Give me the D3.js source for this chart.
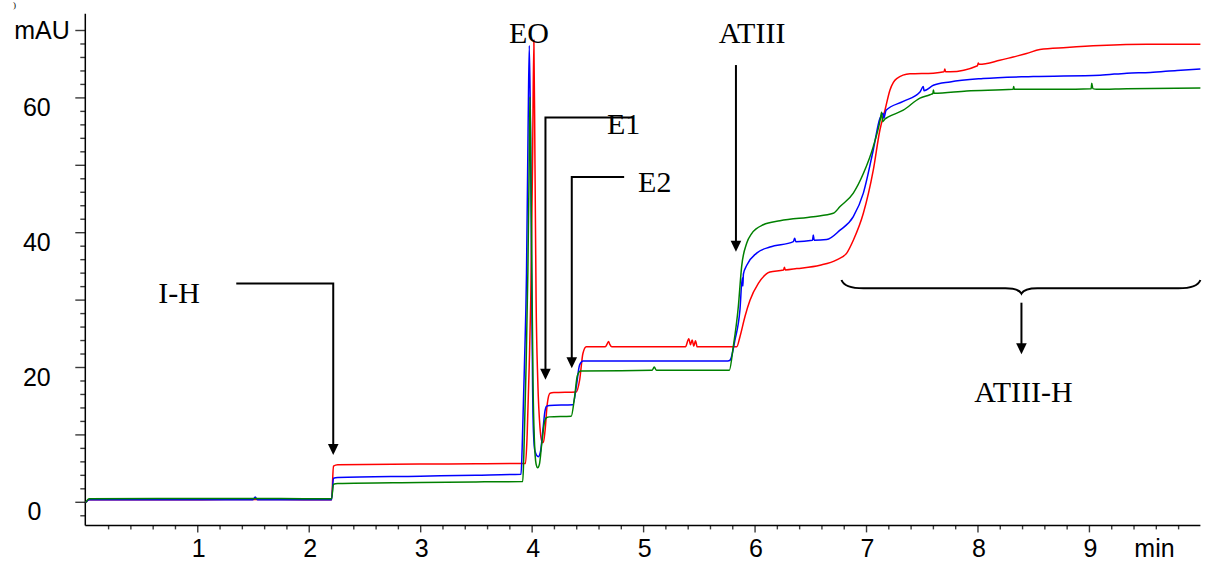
<!DOCTYPE html>
<html>
<head>
<meta charset="utf-8">
<script src="https://cdn.jsdelivr.net/npm/d3@7"></script>
<style>
  html, body { margin: 0; padding: 0; background: #fff; }
  svg { display: block; }
</style>
</head>
<body>
<svg id="chart" width="1210" height="563"></svg>
<script>
// ---------------- DATA ----------------
// time in min, absorbance in mAU
const redTrace = [
  [0, -0.1], [0.03, 0.3], [0.5, 0.3], [1.0, 0.3], [1.5, 0.35], [2.0, 0.3], [2.205, 0.3],
  [2.222, 5.3], [2.26, 5.5], [3.0, 5.6], [3.5, 5.65], [3.945, 5.7],
  [3.96, 10], [3.978, 20], [3.992, 30], [4.008, 50], [4.02, 68.5], [4.03, 50], [4.04, 30],
  [4.055, 18], [4.075, 11], [4.095, 8.8], [4.105, 8.8], [4.12, 10.5], [4.14, 14.5], [4.165, 16.1],
  [4.2, 16.2], [4.40, 16.3], [4.43, 18], [4.46, 22], [4.49, 23.0],
  [4.66, 23.0], [4.68, 23.5], [4.69, 23.8], [4.70, 23.4], [4.72, 23.0],
  [5.38, 23.0], [5.41, 24.2], [5.425, 23.3], [5.44, 24.0], [5.455, 23.1], [5.47, 23.9], [5.485, 23.0],
  [5.84, 23.0], [5.869, 24.5], [5.914, 27.5], [5.959, 29.9], [6.034, 32.4], [6.138, 34.1],
  [6.26, 34.4], [6.268, 34.8], [6.276, 34.4], [6.378, 34.6], [6.587, 35.1], [6.737, 35.9],
  [6.827, 36.9], [6.886, 38.8], [6.976, 42.8], [7.065, 49.2], [7.125, 55.2], [7.17, 58.1],
  [7.215, 61.1], [7.275, 62.8], [7.394, 63.5], [7.604, 63.6], [7.70, 63.8], [7.707, 64.2],
  [7.714, 63.8], [7.754, 63.8], [8.0, 64.7], [8.007, 65.1], [8.015, 64.9], [8.2, 65.5],
  [8.32, 66.0], [8.44, 66.5], [8.56, 67.1], [8.8, 67.4], [9.1, 67.7], [9.52, 67.9], [9.7, 67.9], [10.0, 67.9]
];

const blueTrace = [
  [0, -0.1], [0.03, 0.3], [1.0, 0.3], [1.5, 0.3], [1.52, 0.7], [1.54, 0.3], [2.205, 0.3],
  [2.222, 3.5], [2.26, 3.6], [3.0, 3.8], [3.5, 3.95], [3.905, 4.1],
  [3.915, 8], [3.935, 20], [3.954, 34], [3.968, 55], [3.979, 67.7], [3.99, 55], [4.0, 34],
  [4.008, 18], [4.016, 10.5], [4.03, 7.5], [4.06, 6.7], [4.08, 7.5], [4.10, 10.5], [4.12, 13.5],
  [4.135, 14.2], [4.16, 14.3], [4.37, 14.4], [4.40, 17], [4.43, 20.3], [4.46, 20.9],
  [5.76, 20.9], [5.78, 21.0], [5.824, 24.0], [5.869, 28.5], [5.89, 33.2], [5.895, 32.0],
  [5.90, 33.8], [5.93, 35.1], [6.019, 36.9], [6.138, 37.8], [6.348, 38.6], [6.36, 39.1],
  [6.37, 38.6], [6.52, 38.8], [6.527, 39.6], [6.535, 38.8], [6.647, 38.9], [6.767, 40.3],
  [6.886, 42.3], [6.976, 45.8], [7.065, 52.2], [7.125, 56.9], [7.155, 57.6], [7.16, 56.9],
  [7.18, 58.1], [7.334, 59.4], [7.484, 60.8], [7.514, 61.6], [7.52, 61.0], [7.604, 61.8],
  [7.754, 62.3], [8.05, 62.8], [8.5, 63.1], [9.1, 63.3], [9.34, 63.6], [9.55, 63.7],
  [9.79, 64.0], [10.0, 64.2]
];

const greenTrace = [
  [0, -0.1], [0.03, 0.45], [1.0, 0.5], [1.5, 0.5], [2.0, 0.45], [2.205, 0.45],
  [2.222, 2.6], [2.26, 2.7], [3.0, 2.85], [3.5, 2.95], [3.92, 3.0],
  [3.93, 7], [3.95, 20], [3.966, 34], [3.978, 50], [3.985, 60.1], [3.993, 50], [4.002, 34],
  [4.012, 18], [4.025, 9], [4.04, 5.6], [4.054, 5.06], [4.07, 5.6], [4.09, 8.5], [4.115, 11.8],
  [4.135, 12.5], [4.16, 12.6], [4.355, 12.7], [4.385, 15.5], [4.41, 18.7], [4.44, 19.4],
  [5.08, 19.5], [5.10, 20.0], [5.12, 19.5], [5.773, 19.5], [5.809, 23.0], [5.854, 28.9],
  [5.884, 34.9], [5.93, 38.4], [5.974, 39.8], [6.078, 41.1], [6.228, 41.7], [6.527, 42.3],
  [6.706, 42.8], [6.767, 43.8], [6.886, 45.8], [6.976, 48.7], [7.065, 52.7], [7.13, 56.9],
  [7.14, 57.8], [7.15, 56.4], [7.17, 56.8], [7.20, 57.1], [7.334, 58.1], [7.484, 59.9],
  [7.574, 60.4], [7.60, 60.6], [7.605, 61.1], [7.61, 60.6], [7.903, 60.95], [8.32, 61.2],
  [8.325, 61.6], [8.33, 61.2], [8.74, 61.2], [9.02, 61.3], [9.025, 62.1], [9.035, 61.3],
  [9.07, 61.2], [9.34, 61.3], [10.0, 61.4]
];

const seriesNames = ["red", "blue", "green"];
const seriesColors = ["#ff0000", "#0000ff", "#008000"];

const xTickLabels = [1, 2, 3, 4, 5, 6, 7, 8, 9];
const yTickLabels = [0, 20, 40, 60];
const xUnit = "min";
const yUnit = "mAU";

// Annotations (data units: time, mAU)
const arrowAnnotations = [
  { label: "I-H",  lt: 0.65, lv: 29.5, anchor: "start", path: [[1.35, 32.4], [2.22, 32.4], [2.22, 6.95]] },
  { label: "E1",   lt: 4.675, lv: 54.5, anchor: "start", path: [[4.91, 57.0], [4.124, 57.0], [4.124, 18.1]] },
  { label: "E2",   lt: 4.955, lv: 45.95, anchor: "start", path: [[4.83, 48.2], [4.36, 48.2], [4.36, 19.8]] },
  { label: "ATIII", lt: 5.978, lv: 68.0, anchor: "middle", path: [[5.833, 64.8], [5.833, 37.1]] }
];
const peakLabel = { label: "EO", lt: 3.98, lv: 68.0 };
const braceRange = [6.78, 10.0];
const braceLabel = { label: "ATIII-H", lt: 8.41, lv: 14.85 };

// ---------------- CHART ----------------
const svg = d3.select("#chart");
svg.append("rect").attr("width", 1210).attr("height", 563).attr("fill", "#fff");

const x = d3.scaleLinear().domain([0, 10]).range([85.8, 1200.4]);
const y = d3.scaleLinear().domain([0, 70]).range([501.8, 30]);

const axisFont = "'Liberation Sans', Arial, sans-serif";
const annFont = "'Liberation Serif', 'Times New Roman', serif";

// Y axis ticks
const yMinor = d3.range(-2, 71, 2).filter(v => v % 10 !== 0);
const yMajor = d3.range(0, 71, 10);
const yAxisX = x(0) - 0.5;
const gYmin = svg.append("g").attr("transform", `translate(${yAxisX},0)`)
  .call(d3.axisLeft(y).tickValues(yMinor).tickSize(5).tickFormat(""));
const gYmaj = svg.append("g").attr("transform", `translate(${yAxisX},0)`)
  .call(d3.axisLeft(y).tickValues(yMajor).tickSize(10).tickFormat(""));
[gYmin, gYmaj].forEach(g => {
  g.select(".domain").remove();
  g.selectAll(".tick line").attr("stroke", "#3a3a3a").attr("stroke-width", 1.4);
});

// X axis ticks
const xAxisY = y(-3.5);
const xMinor = d3.range(1, 50).map(i => i / 5).filter(v => Math.abs(v - Math.round(v)) > 1e-6);
const gXmin = svg.append("g").attr("transform", `translate(0,${xAxisY})`)
  .call(d3.axisBottom(x).tickValues(xMinor).tickSize(4).tickFormat(""));
const gXmaj = svg.append("g").attr("transform", `translate(0,${xAxisY})`)
  .call(d3.axisBottom(x).tickValues(xTickLabels).tickSize(7).tickFormat(""));
[gXmin, gXmaj].forEach(g => {
  g.select(".domain").remove();
  g.selectAll(".tick line").attr("stroke", "#3a3a3a").attr("stroke-width", 1.4);
});

// Axis lines
svg.append("line").attr("x1", yAxisX).attr("x2", yAxisX)
  .attr("y1", y(72.4)).attr("y2", xAxisY)
  .attr("stroke", "#000").attr("stroke-width", 1.5);
svg.append("line").attr("x1", yAxisX).attr("x2", x(10))
  .attr("y1", xAxisY).attr("y2", xAxisY)
  .attr("stroke", "#000").attr("stroke-width", 1.5);

// Tick labels
svg.selectAll(".ylab").data(yTickLabels).enter().append("text")
  .attr("class", "ylab")
  .attr("x", d => d === 0 ? 34.5 : 36.8).attr("y", d => y(d) + 18.5)
  .attr("text-anchor", "middle")
  .attr("font-family", axisFont).attr("font-size", 25)
  .text(d => d);
svg.append("text").attr("x", 42).attr("y", y(70) + 9)
  .attr("text-anchor", "middle")
  .attr("font-family", axisFont).attr("font-size", 25)
  .text(yUnit);

svg.selectAll(".xlab").data(xTickLabels).enter().append("text")
  .attr("class", "xlab")
  .attr("x", d => x(d) + 1.5).attr("y", 556.5)
  .attr("text-anchor", "middle")
  .attr("font-family", axisFont).attr("font-size", 25)
  .text(d => d);
svg.append("text").attr("x", 1154.5).attr("y", 556.5)
  .attr("text-anchor", "middle")
  .attr("font-family", axisFont).attr("font-size", 25)
  .text(xUnit);

// small glyph at the very top-left of the original picture
svg.append("text").attr("x", 13).attr("y", 8)
  .attr("font-family", annFont).attr("font-size", 9).text(")");

// Traces
const line = d3.line()
  .x(d => x(d[0]))
  .y(d => y(d[1]))
  .curve(d3.curveMonotoneX);

const traces = [redTrace, blueTrace, greenTrace];
traces.forEach((tr, i) => {
  svg.append("path")
    .datum(tr)
    .attr("fill", "none")
    .attr("stroke", seriesColors[i])
    .attr("stroke-width", 1.5)
    .attr("stroke-linejoin", "round")
    .attr("d", line);
});

// Annotations
function arrowHead(px, py) {
  const w = 5.3, h = 11;
  return `M${px},${py} L${px - w},${py - h} L${px + w},${py - h} Z`;
}

arrowAnnotations.forEach(a => {
  const pts = a.path.map(p => [x(p[0]), y(p[1])]);
  const tip = pts[pts.length - 1];
  const shaft = pts.slice(0, -1).concat([[tip[0], tip[1] - 9]]);
  svg.append("path")
    .attr("d", d3.line()(shaft))
    .attr("fill", "none").attr("stroke", "#000").attr("stroke-width", 2);
  svg.append("path").attr("d", arrowHead(tip[0], tip[1])).attr("fill", "#000");
  svg.append("text")
    .attr("x", x(a.lt)).attr("y", y(a.lv))
    .attr("text-anchor", a.anchor)
    .attr("font-family", annFont).attr("font-size", 30)
    .text(a.label);
});

svg.append("text")
  .attr("x", x(peakLabel.lt) - 0.5).attr("y", y(peakLabel.lv))
  .attr("text-anchor", "middle")
  .attr("font-family", annFont).attr("font-size", 30)
  .text(peakLabel.label);

// Brace
const bx0 = x(braceRange[0]), bx1 = x(braceRange[1]);
const bxm = (bx0 + bx1) / 2 + 0.5;
const byEnd = 280, byMid = 288.3, byCusp = 293.6;
const braceD = `M${bx0},${byEnd} Q${bx0 + 3},${byMid} ${bx0 + 22},${byMid}` +
  ` L${bxm - 16},${byMid} Q${bxm - 3},${byMid} ${bxm},${byCusp}` +
  ` Q${bxm + 3},${byMid} ${bxm + 16},${byMid}` +
  ` L${bx1 - 22},${byMid} Q${bx1 - 3},${byMid} ${bx1},${byEnd}`;
svg.append("path").attr("d", braceD).attr("fill", "none")
  .attr("stroke", "#000").attr("stroke-width", 2);
svg.append("line").attr("x1", bxm).attr("x2", bxm)
  .attr("y1", 302.7).attr("y2", 345)
  .attr("stroke", "#000").attr("stroke-width", 2);
svg.append("path").attr("d", arrowHead(bxm, 354.3)).attr("fill", "#000");
svg.append("text")
  .attr("x", bxm + 2).attr("y", 401.7)
  .attr("text-anchor", "middle")
  .attr("font-family", annFont).attr("font-size", 30)
  .text(braceLabel.label);
</script>
</body>
</html>
